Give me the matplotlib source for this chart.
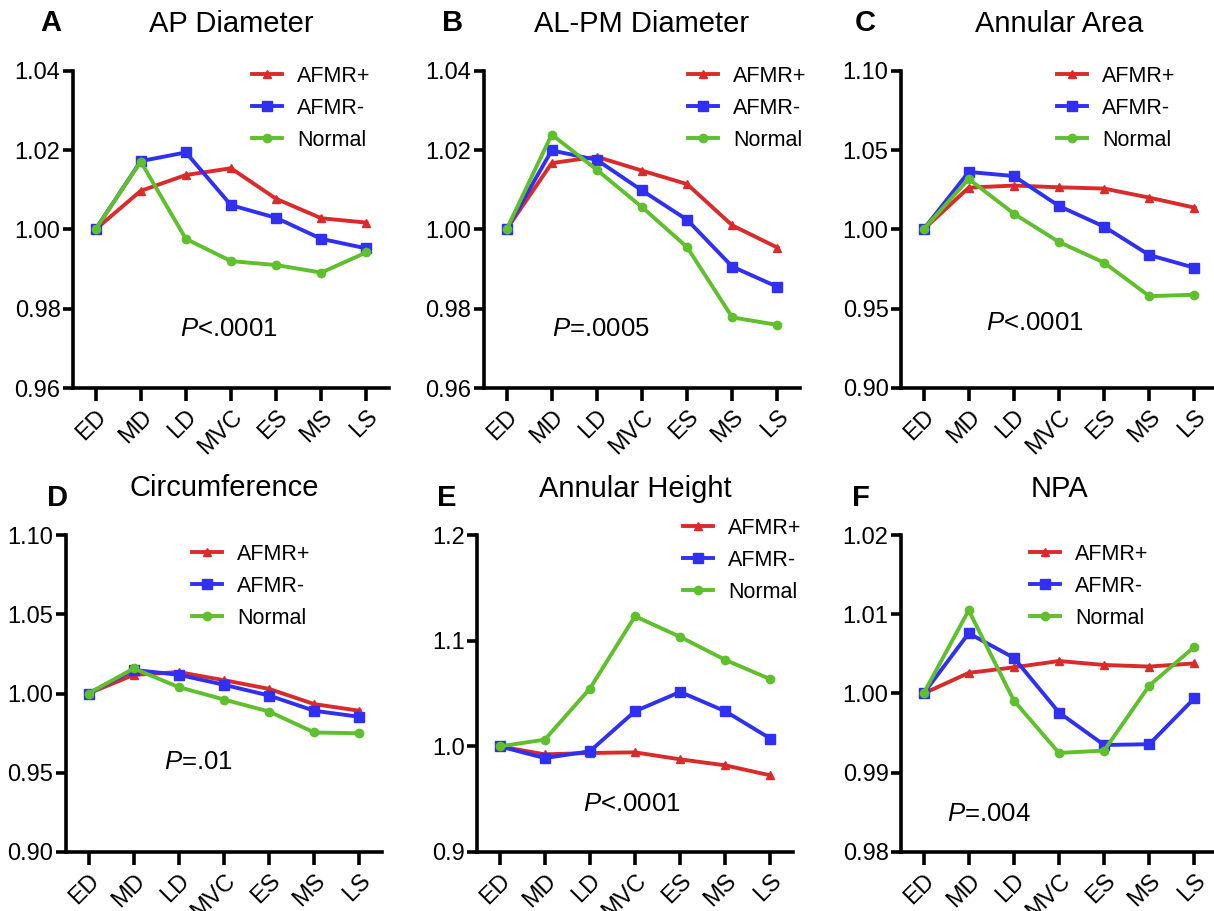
import matplotlib
matplotlib.use("Agg")
import matplotlib.pyplot as plt

plt.rcParams['font.family'] = ['Liberation Sans', 'DejaVu Sans']
plt.rcParams['mathtext.fontset'] = 'custom'
plt.rcParams['mathtext.rm'] = 'Liberation Sans'
plt.rcParams['mathtext.it'] = 'Liberation Sans:italic'

phases = ["ED", "MD", "LD", "MVC", "ES", "MS", "LS"]
series_names = ["AFMR+", "AFMR-", "Normal"]

titles = ["AP Diameter", "AL-PM Diameter", "Annular Area",
          "Circumference", "Annular Height", "NPA"]
letters = ["A", "B", "C", "D", "E", "F"]
pvalues = ["<.0001", "=.0005", "<.0001", "=.01", "<.0001", "=.004"]

# Panel A: AP Diameter
ap_afmr_pos = [1.000, 1.0097, 1.0137, 1.0154, 1.0077, 1.0028, 1.0017]
ap_afmr_neg = [1.000, 1.0172, 1.0194, 1.0061, 1.0029, 0.9976, 0.9952]
ap_normal = [1.000, 1.0171, 0.9976, 0.9920, 0.9910, 0.9891, 0.9942]
# Panel B: AL-PM Diameter
alpm_afmr_pos = [1.000, 1.0167, 1.0183, 1.0148, 1.0114, 1.0010, 0.9954]
alpm_afmr_neg = [1.000, 1.0199, 1.0175, 1.0098, 1.0024, 0.9906, 0.9855]
alpm_normal = [1.000, 1.0239, 1.0150, 1.0056, 0.9955, 0.9778, 0.9759]
# Panel C: Annular Area
area_afmr_pos = [1.000, 1.0263, 1.0276, 1.0265, 1.0257, 1.0200, 1.0137]
area_afmr_neg = [1.000, 1.0362, 1.0336, 1.0147, 1.0017, 0.9838, 0.9758]
area_normal = [1.000, 1.0318, 1.0099, 0.9920, 0.9790, 0.9579, 0.9588]
# Panel D: Circumference
circ_afmr_pos = [1.000, 1.0118, 1.0135, 1.0084, 1.0029, 0.9933, 0.9891]
circ_afmr_neg = [1.000, 1.0149, 1.0118, 1.0055, 0.9987, 0.9891, 0.9853]
circ_normal = [1.000, 1.0158, 1.0040, 0.9962, 0.9886, 0.9754, 0.9749]
# Panel E: Annular Height
height_afmr_pos = [1.000, 0.9924, 0.9937, 0.9943, 0.9877, 0.9820, 0.9725]
height_afmr_neg = [1.000, 0.9889, 0.9953, 1.0332, 1.0515, 1.0332, 1.0073]
height_normal = [1.000, 1.0063, 1.0546, 1.1231, 1.1036, 1.0818, 1.0635]
# Panel F: NPA
npa_afmr_pos = [1.000, 1.0026, 1.0033, 1.0041, 1.0036, 1.0034, 1.0038]
npa_afmr_neg = [1.000, 1.0076, 1.0045, 0.9976, 0.9935, 0.9936, 0.9994]
npa_normal = [1.000, 1.0105, 0.9991, 0.9925, 0.9928, 1.0010, 1.0059]

panel_data = [
    (ap_afmr_pos, ap_afmr_neg, ap_normal),
    (alpm_afmr_pos, alpm_afmr_neg, alpm_normal),
    (area_afmr_pos, area_afmr_neg, area_normal),
    (circ_afmr_pos, circ_afmr_neg, circ_normal),
    (height_afmr_pos, height_afmr_neg, height_normal),
    (npa_afmr_pos, npa_afmr_neg, npa_normal),
]

yticks_list = [
    [0.96, 0.98, 1.00, 1.02, 1.04],
    [0.96, 0.98, 1.00, 1.02, 1.04],
    [0.90, 0.95, 1.00, 1.05, 1.10],
    [0.90, 0.95, 1.00, 1.05, 1.10],
    [0.9, 1.0, 1.1, 1.2],
    [0.98, 0.99, 1.00, 1.01, 1.02],
]
yfmt = ["{:.2f}", "{:.2f}", "{:.2f}", "{:.2f}", "{:.1f}", "{:.2f}"]

# P text positions (data coords: x, y)
ptext_pos = [(1.86, 0.975), (1.0, 0.975), (1.39, 0.9407),
             (1.68, 0.957), (1.84, 0.9457), (0.51, 0.98476)]

colors = ["#d92b2b", "#3030f2", "#5fbf2c"]
markers = ["^", "s", "o"]
msizes = [6, 6.5, 6]

W, H = 1214, 911
fig = plt.figure(figsize=(W / 100, H / 100), dpi=100)

ax_px = [  # left, top, bottom
    (73, 70.7, 388), (484, 70.7, 388), (901, 70.7, 388),
    (66, 535, 852), (477, 535, 852), (901, 535, 852),
]
axw = 316
legend_px = [(252, 66), (688, 66), (1057, 66), (192, 544), (683, 518), (1030, 544)]
title_y = [24, 24, 24, 488, 489, 489]
letter_px = [(40, 23), (442, 23), (855, 23), (47, 498), (437, 498), (852, 498)]

for i in range(6):
    l, t, b = ax_px[i]
    ax = fig.add_axes([l / W, 1 - b / H, axw / W, (b - t) / H])
    x = list(range(len(phases)))
    for s in range(3):
        ax.plot(x, panel_data[i][s], color=colors[s], marker=markers[s],
                markersize=msizes[s], linewidth=2.8, label=series_names[s],
                clip_on=False, zorder=3 + s * 0.1)
    ax.set_xlim(-0.5, 6.5)
    yt = yticks_list[i]
    ax.set_ylim(yt[0], yt[-1])
    ax.set_yticks(yt)
    ax.set_yticklabels([yfmt[i].format(v) for v in yt], fontsize=17)
    ax.set_xticks(x)
    ax.set_xticklabels(phases, fontsize=17, rotation=45, ha='right',
                       va='top', rotation_mode='anchor')
    for sp in ['top', 'right']:
        ax.spines[sp].set_visible(False)
    for sp in ['left', 'bottom']:
        ax.spines[sp].set_linewidth(2.6)
    ax.tick_params(axis='both', direction='out', width=2.6, length=7, pad=2)
    ax.tick_params(axis='x', length=9, pad=4)
    px, py = ptext_pos[i]
    ax.text(px, py, r'$\it{P}$' + pvalues[i], fontsize=18.5, ha='left',
            va='center')
    lx, ly = legend_px[i]
    ax.legend(loc='upper left', bbox_to_anchor=(lx / W, 1 - ly / H),
              bbox_transform=fig.transFigure, frameon=False, fontsize=15.5,
              handlelength=1.4, handletextpad=0.7, labelspacing=0.5,
              borderpad=0, borderaxespad=0)
    fig.text((l + axw / 2) / W, 1 - title_y[i] / H, titles[i], fontsize=21,
             ha='center', va='center')
    fig.text(letter_px[i][0] / W, 1 - letter_px[i][1] / H, letters[i],
             fontsize=21, fontweight='bold', ha='left', va='center')

fig.savefig("out.png", dpi=100, facecolor='white')
